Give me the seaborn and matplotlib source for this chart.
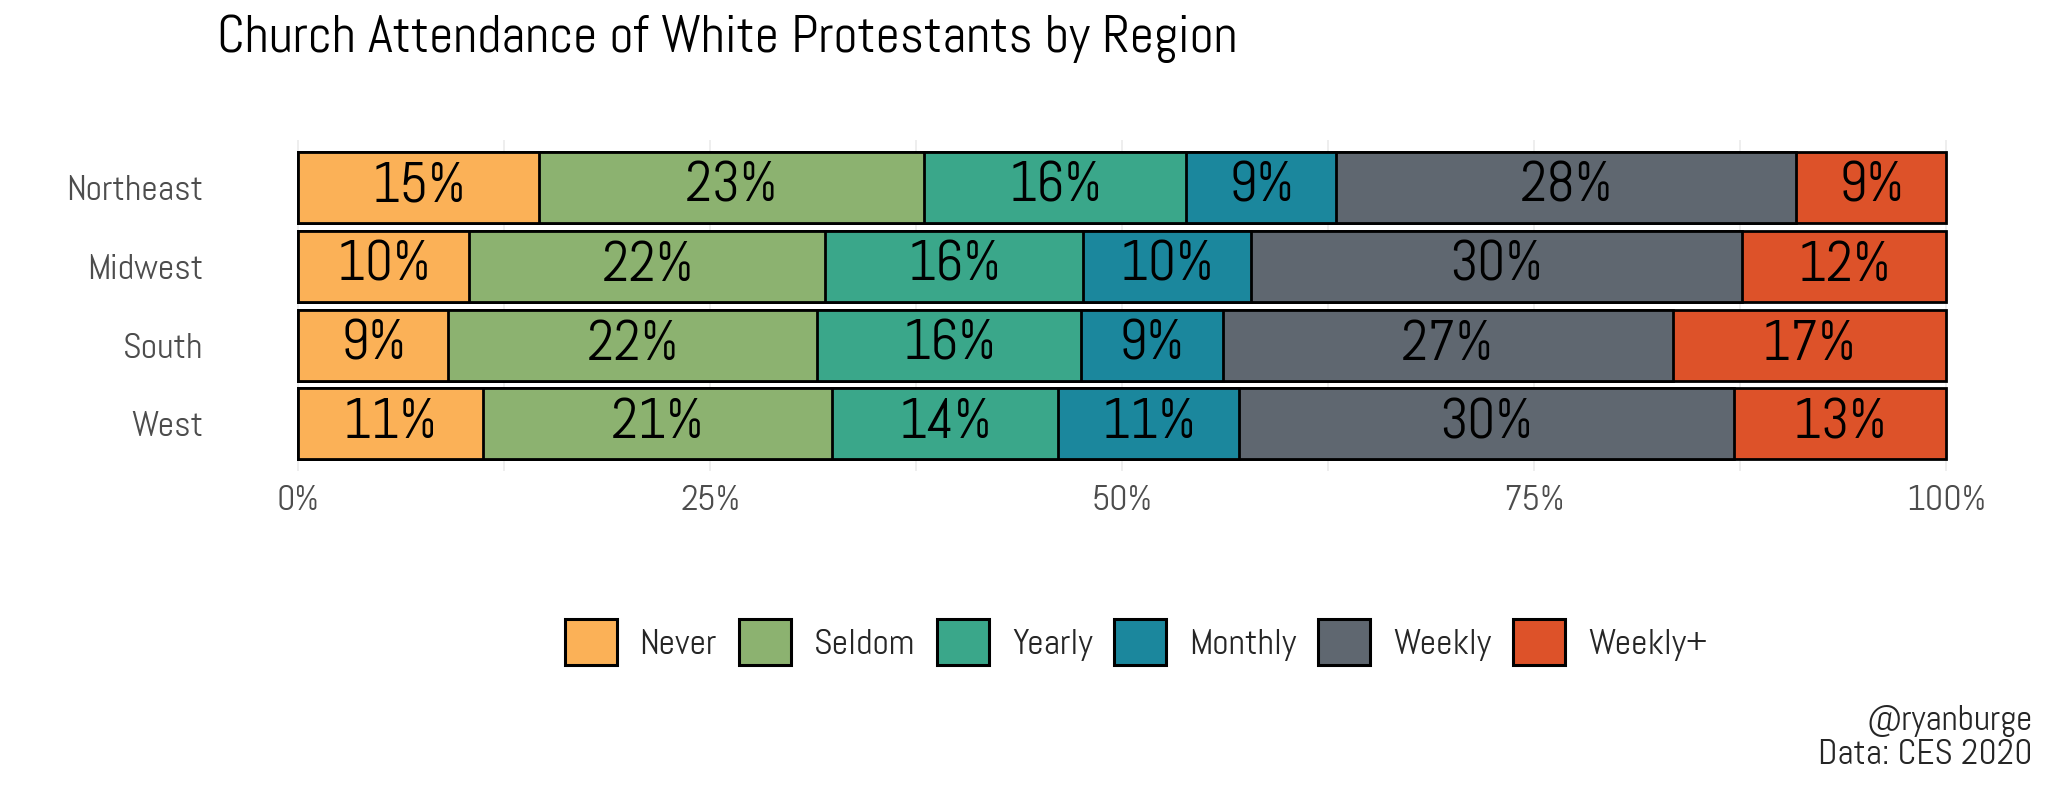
import matplotlib
matplotlib.use("Agg")
import matplotlib.pyplot as plt
from matplotlib.patches import Patch
import seaborn as sns
import pandas as pd

regions = ["Northeast", "Midwest", "South", "West"]
categories = ["Never", "Seldom", "Yearly", "Monthly", "Weekly", "Weekly+"]
never = [14.6, 10.4, 9.1, 11.2]
seldom = [23.4, 21.6, 22.4, 21.2]
yearly = [15.9, 15.6, 16.0, 13.7]
monthly = [9.1, 10.2, 8.6, 11.0]
weekly = [27.9, 29.8, 27.3, 30.0]
weekly_plus = [9.1, 12.4, 16.6, 12.9]
colors = ["#FBB157", "#8CB270", "#3AA78A", "#1B879D", "#5F6770", "#DD5229"]
xticks = [0, 25, 50, 75, 100]
xticklabels = ["0%", "25%", "50%", "75%", "100%"]

sns.set_theme(style="white")
plt.rcParams["font.family"] = ["Abel", "DejaVu Sans"]

df = pd.DataFrame({"region": regions, "Never": never, "Seldom": seldom, "Yearly": yearly,
                   "Monthly": monthly, "Weekly": weekly, "Weekly+": weekly_plus})
cum = df[categories].cumsum(axis=1)

fig = plt.figure(figsize=(20.48, 7.96), dpi=100)
ax = fig.add_axes([0.1053, 0.408, 0.8852, 0.416])

for cat, col in reversed(list(zip(categories, colors))):
    sns.barplot(x=cum[cat], y=df["region"], order=regions, color=col, orient="h", saturation=1,
                width=0.9, edgecolor="black", linewidth=2, ax=ax, zorder=3)

for i, r in enumerate(regions):
    for cat in categories:
        v = df.loc[i, cat]
        c = cum.loc[i, cat] - v / 2
        ax.text(c, i, f"{round(v):.0f}%", ha="center", va="center", fontsize=40, color="black", zorder=5)

ax.set_xlim(-5, 105)
ax.set_ylim(3.6, -0.6)
ax.set_xticks(xticks)
ax.set_xticklabels(xticklabels)
ax.set_xticks([12.5, 37.5, 62.5, 87.5], minor=True)
ax.grid(axis="x", which="both", color="#EBEBEB", linewidth=1.2, zorder=0)
ax.grid(axis="y", visible=False)
ax.set_axisbelow(True)
for s in ax.spines.values():
    s.set_visible(False)
ax.tick_params(axis="both", which="both", length=0, labelsize=26, colors="#4D4D4D")
ax.tick_params(axis="x", pad=10)
ax.tick_params(axis="y", pad=8.5)
ax.set_xlabel("")
ax.set_ylabel("")

fig.text(217 / 2048, 1 - 39 / 796, "Church Attendance of White Protestants by Region",
         fontsize=38.2, ha="left", va="center", color="black")

handles = [Patch(facecolor=c, edgecolor="black", linewidth=2.2, label=l) for l, c in zip(categories, colors)]
fig.legend(handles=handles, loc="center", bbox_to_anchor=(1136 / 2048, 1 - 642 / 796), ncol=6,
           frameon=False, fontsize=26, handlelength=1.44, handleheight=1.6, handletextpad=0.64,
           columnspacing=0.6)

fig.text(2033 / 2048, 1 - 721 / 796, "@ryanburge", fontsize=25.5, ha="right", va="center")
fig.text(2033 / 2048, 1 - 755 / 796, "Data: CES 2020", fontsize=25.5, ha="right", va="center")

fig.savefig("out.png", dpi=100, facecolor="white")
